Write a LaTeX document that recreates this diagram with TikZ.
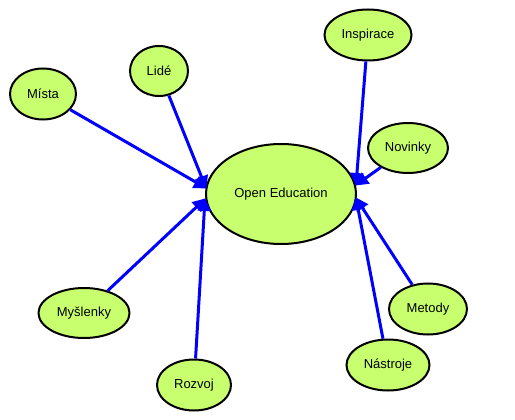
\documentclass[tikz,border=0pt]{standalone}
\usepackage{fontspec}
\setmainfont{Liberation Sans}
\usetikzlibrary{arrows.meta,shapes.geometric}
\definecolor{nodegreen}{RGB}{200,255,110}
\definecolor{edgeblue}{RGB}{0,0,255}
\tikzset{
  topic/.style={ellipse, draw=black, line width=2pt, fill=nodegreen, inner sep=0pt,
    font=\fontsize{13}{15}\selectfont},
  link/.style={draw=edgeblue, line width=3pt, -{Triangle[length=13pt,width=13pt]}, shorten >=-1pt}
}
\begin{document}
\begin{tikzpicture}[x=1pt,y=-1pt]
\useasboundingbox (0,0) rectangle (515,420);
\node[topic, minimum width=150pt, minimum height=100pt] (oe) at (281,194) {Open Education};
\node[topic, minimum width=66pt, minimum height=51pt] (mista) at (43,94) {Místa};
\node[topic, minimum width=58pt, minimum height=50pt] (lide) at (159,71) {Lidé};
\node[topic, minimum width=87pt, minimum height=51pt] (insp) at (368,35) {Inspirace};
\node[topic, minimum width=80pt, minimum height=50pt] (novinky) at (408,148) {Novinky};
\node[topic, minimum width=91pt, minimum height=50pt] (mysl) at (84,313) {Myšlenky};
\node[topic, minimum width=74pt, minimum height=51pt] (rozvoj) at (194,385) {Rozvoj};
\node[topic, minimum width=78pt, minimum height=51pt] (metody) at (428,309) {Metody};
\node[topic, minimum width=83pt, minimum height=51pt] (nastroje) at (388,365) {Nástroje};
\coordinate (L1) at (206,188);
\coordinate (L2) at (205,199);
\coordinate (R1) at (356,185);
\coordinate (R2) at (356,198);
\draw[link] (mista) -- (L1);
\draw[link] (lide) -- (L1);
\draw[link] (mysl) -- (L2);
\draw[link] (rozvoj) -- (L2);
\draw[link] (insp) -- (R1);
\draw[link] (novinky) -- (R1);
\draw[link] (metody) -- (R2);
\draw[link] (nastroje) -- (R2);
\end{tikzpicture}
\end{document}
